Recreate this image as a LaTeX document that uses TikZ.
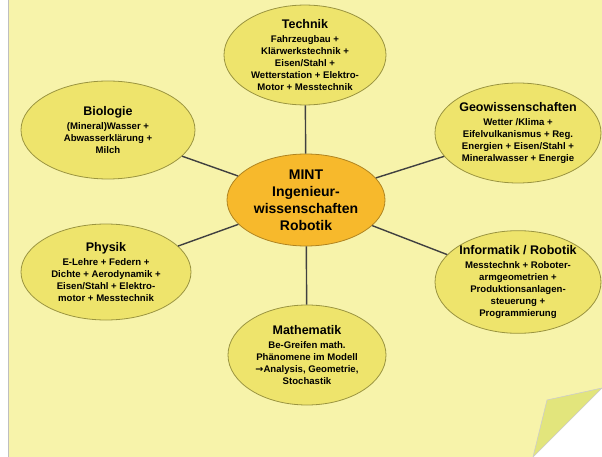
\documentclass[tikz,border=0pt]{standalone}
\usepackage{fontspec}
\setmainfont{Liberation Sans}
\newfontfamily\symfont{DejaVu Sans}
\usepackage{tikz}
\usetikzlibrary{calc,positioning,shapes.geometric}
\definecolor{paper}{HTML}{F7F3AA}
\definecolor{flap}{HTML}{E2E57C}
\definecolor{topicfill}{HTML}{EEE46C}
\definecolor{topicdraw}{HTML}{9A9440}
\definecolor{mintfill}{HTML}{F7B92C}
\definecolor{mintdraw}{HTML}{B08420}
\definecolor{spoke}{HTML}{404040}
\newcommand{\ttl}[1]{{\fontsize{12.5}{14}\selectfont #1}\\[2pt]}
\tikzset{
  line/.style  = {draw=spoke, line width=1.4pt},
  topic/.style = {ellipse, draw=topicdraw, fill=topicfill, line width=0.8pt,
                  align=center, inner sep=0pt, font=\bfseries\fontsize{9.6}{11.9}\selectfont},
  core/.style  = {topic, draw=mintdraw, fill=mintfill, font=\bfseries\fontsize{14}{17}\selectfont},
}
\begin{document}
\begin{tikzpicture}[x=1pt, y=-1pt]
  \useasboundingbox (0,0) rectangle (602,457);
  % sticky note background
  \fill[white] (0,0) rectangle (602,457);
  \fill[paper] (8,0) -- (602,0) -- (602,388) -- (533,457) -- (8,457) -- cycle;
  \draw[black!25, line width=1pt] (8.5,0) -- (8.5,457);
  \filldraw[fill=flap, draw=black!20, line width=0.6pt] (547,400) -- (602,388) -- (533,457) -- cycle;

  \node[core, minimum width=158, minimum height=92] (mint) at (306,200)
    {MINT\\Ingenieur-\\wissenschaften\\Robotik};
  \node[topic, minimum width=162, minimum height=98] (tech) at (305,55)
    {\ttl{Technik}Fahrzeugbau +\\Klärwerkstechnik +\\Eisen/Stahl +\\Wetterstation + Elektro-\\Motor + Messtechnik};
  \node[topic, minimum width=174, minimum height=98] (bio) at (108,130)
    {\ttl{Biologie}(Mineral)Wasser +\\Abwasserklärung +\\Milch};
  \node[topic, minimum width=162, minimum height=100] (geo) at (518,133)
    {\ttl{Geowissenschaften}Wetter /Klima +\\Eifelvulkanismus + Reg.\\Energien + Eisen/Stahl +\\Mineralwasser + Energie};
  \node[topic, minimum width=170, minimum height=96] (phys) at (106,272)
    {\ttl{Physik}E-Lehre + Federn +\\Dichte + Aerodynamik +\\Eisen/Stahl + Elektro-\\motor + Messtechnik};
  \node[topic, minimum width=160, minimum height=98] (info) at (518,282)
    {\ttl{Informatik / Robotik}Messtechnk + Roboter-\\armgeometrien +\\Produktionsanlagen-\\steuerung +\\Programmierung};
  \node[topic, minimum width=158, minimum height=100] (math) at (307,355)
    {\ttl{Mathematik}Be-Greifen math.\\Phänomene im Modell\\{\symfont →}Analysis, Geometrie,\\Stochastik};

  \draw[line] (mint) -- (tech);
  \draw[line] (mint) -- (bio);
  \draw[line] (mint) -- (geo);
  \draw[line] (mint) -- (phys);
  \draw[line] (mint) -- (info);
  \draw[line] (mint) -- (math);
\end{tikzpicture}
\end{document}
